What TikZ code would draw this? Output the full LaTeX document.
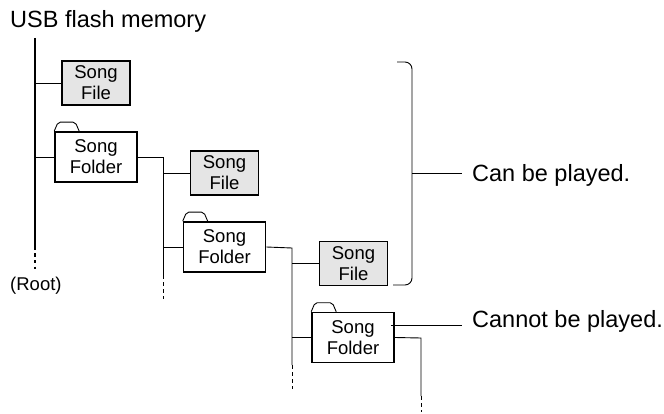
\documentclass[tikz,border=0pt]{standalone}
\usepackage{fontspec}
\setmainfont{Liberation Sans}
\begin{document}
\begin{tikzpicture}[x=1pt,y=-1pt,
  big/.style={font=\fontsize{23.5}{27}\selectfont},
  small/.style={font=\fontsize{18.5}{21}\selectfont},
  link/.style={line width=0.9pt},
  gap/.style={line width=0.9pt, dash pattern=on 4pt off 3pt},
  songfile/.style={small, shape=rectangle, draw, line width=1.6pt, fill=black!10,
    align=center, minimum width=68pt, minimum height=44pt, inner sep=0pt},
  songfolder/.style={small, shape=rectangle, draw, line width=1.6pt, fill=white,
    align=center, minimum width=82pt, minimum height=50pt, inner sep=0pt}]

  \useasboundingbox (0,0) rectangle (664,414);

  \node[big, anchor=base west, inner sep=0pt] (usb) at (10,28) {USB flash memory};
  \node[small, anchor=base west, inner sep=0pt] (root) at (10,290) {(Root)};

  % files and folders
  \node[songfile] (fileA) at (96,83) {Song\\File};
  \node[songfolder] (folderA) at (96,157) {Song\\Folder};
  \node[songfile] (fileB) at (224.5,173) {Song\\File};
  \node[songfolder] (folderB) at (224.5,247) {Song\\Folder};
  \node[songfile] (fileC) at (353.5,263.5) {Song\\File};
  \node[songfolder] (folderC) at (353,337.5) {Song\\Folder};

  % folder tabs
  \foreach \f in {folderA,folderB,folderC}
    \draw[line width=0.9pt, line join=round]
      (\f.north west) -- ++(3,-7) -- ++(3,-2) -- ++(13,0) -- ++(3,2) -- ++(3,7);

  % tree lines
  \coordinate (trunkA) at (35,38);
  \coordinate (trunkB) at (163,157);
  \coordinate (trunkC) at (292,248);
  \coordinate (trunkD) at (421,338);

  \draw[line width=2.8pt] (trunkA) -- ++(0,209) coordinate (endA);
  \draw[line width=2.8pt, dash pattern=on 3pt off 3.5pt] (endA) -- ++(0,22);

  \draw[link] (trunkA |- fileA.west) -- (fileA.west);
  \draw[link] (trunkA |- folderA.west) -- (folderA.west);
  \draw[link] (folderA.east) -- (trunkB) -- ++(0,118) coordinate (endB);
  \draw[gap] (endB) -- ++(0,24);
  \draw[link] (trunkB |- fileB.west) -- (fileB.west);
  \draw[link] (trunkB |- folderB.west) -- (folderB.west);
  \draw[link] (folderB.east) -- (trunkC) -- ++(0,117) coordinate (endC);
  \draw[gap] (endC) -- ++(0,24);
  \draw[link] (trunkC |- fileC.west) -- (fileC.west);
  \draw[link] (trunkC |- folderC.west) -- (folderC.west);
  \draw[link] (folderC.east) -- (trunkD) -- ++(0,58) coordinate (endD);
  \draw[gap] (endD) -- ++(0,16);

  % bracket and notes
  \node[big, anchor=base west, inner sep=0pt] (can) at (472,182) {Can be played.};
  \node[big, anchor=base west, inner sep=0pt] (cannot) at (472,327) {Cannot be played.};

  \coordinate (bracetop) at (397,62);
  \coordinate (bracebot) at (393,285);
  \draw[link, rounded corners=7pt]
    (bracetop) -- (412,62) -- (412,285) -- (bracebot);
  \draw[link] (412,173) -- ([xshift=-10pt]can.west |- 412,173);
  \draw[link] ([xshift=-4pt]folderC.east |- 0,325) -- ([xshift=-10pt]cannot.west |- 0,325);
\end{tikzpicture}
\end{document}
